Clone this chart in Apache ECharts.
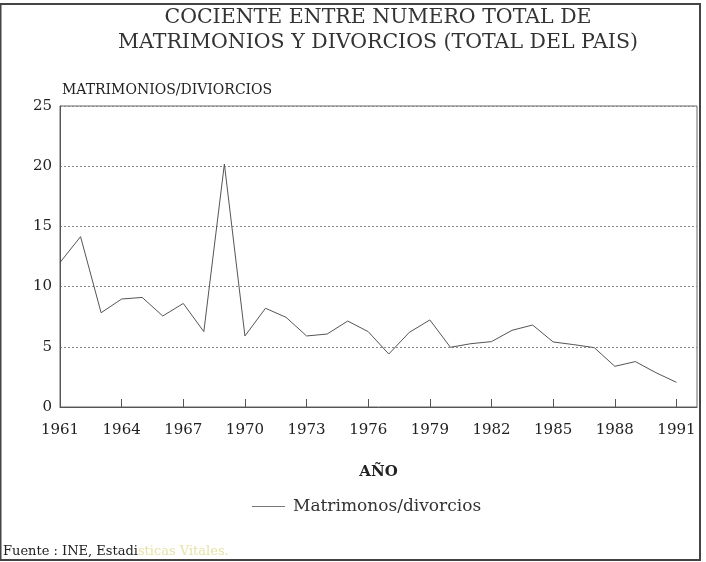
<!DOCTYPE html>
<html>
<head>
<meta charset="utf-8">
<script src="https://cdn.jsdelivr.net/npm/echarts@6/dist/echarts.min.js"></script>
<style>
  html, body { margin: 0; padding: 0; background: #fff; }
  #chart { width: 706px; height: 562px; }
</style>
</head>
<body>
<div id="chart"></div>
<script>
// datos
var anios = [1961, 1962, 1963, 1964, 1965, 1966, 1967, 1968, 1969, 1970,
             1971, 1972, 1973, 1974, 1975, 1976, 1977, 1978, 1979, 1980,
             1981, 1982, 1983, 1984, 1985, 1986, 1987, 1988, 1989, 1990, 1991];
var cociente = [12.0, 14.15, 7.83, 8.97, 9.1, 7.56, 8.6, 6.26, 20.18, 5.9,
                8.2, 7.45, 5.9, 6.06, 7.14, 6.26, 4.4, 6.2, 7.23, 4.96,
                5.26, 5.43, 6.37, 6.81, 5.4, 5.18, 4.93, 3.38, 3.77, 2.85, 2.05];
var aniosEtiqueta = [1961, 1964, 1967, 1970, 1973, 1976, 1979, 1982, 1985, 1988, 1991];

var serieDatos = [];
for (var i = 0; i < anios.length; i++) {
    serieDatos.push([anios[i], cociente[i]]);
}

var fuente = 'DejaVu Serif';
var chart = echarts.init(document.getElementById('chart'));

var option = {
    backgroundColor: '#fff',
    animation: false,
    textStyle: { fontFamily: fuente, color: '#222' },
    grid: {
        left: 60, right: 9, top: 106, bottom: 155,
        show: true,
        borderColor: '#666',
        borderWidth: 1
    },
    legend: {
        left: 247,
        top: 493,
        icon: 'rect',
        itemWidth: 33,
        itemHeight: 1,
        data: ['Matrimonos/divorcios'],
        itemStyle: { color: '#777' },
        textStyle: { fontFamily: fuente, fontSize: 17, color: '#333', padding: [0, 0, 0, 3] }
    },
    xAxis: {
        type: 'value',
        min: 1961,
        max: 1992,
        name: 'AÑO',
        nameLocation: 'middle',
        nameGap: 58,
        nameTextStyle: { fontFamily: fuente, fontSize: 15, fontWeight: 'bold', color: '#222' },
        axisLine: { show: true, lineStyle: { color: '#555', width: 1 } },
        axisTick: {
            show: true,
            inside: true,
            length: 8,
            customValues: aniosEtiqueta,
            lineStyle: { color: '#555' }
        },
        axisLabel: {
            customValues: aniosEtiqueta,
            formatter: function (v) { return String(v); },
            margin: 16,
            fontFamily: fuente,
            fontSize: 15,
            color: '#222'
        },
        splitLine: { show: false }
    },
    yAxis: {
        type: 'value',
        min: 0,
        max: 25,
        interval: 5,
        name: 'MATRIMONIOS/DIVIORCIOS',
        nameLocation: 'end',
        nameGap: 16,
        nameTextStyle: { fontFamily: fuente, fontSize: 14, color: '#222', align: 'left', verticalAlign: 'middle', padding: [0, 0, 0, 2] },
        axisLine: { show: true, lineStyle: { color: '#555', width: 1 } },
        axisTick: { show: false },
        axisLabel: { margin: 8, fontFamily: fuente, fontSize: 15, color: '#222' },
        splitLine: {
            show: true,
            lineStyle: { type: [2, 2], color: '#888', width: 1 }
        }
    },
    series: [
        {
            name: 'Matrimonos/divorcios',
            type: 'line',
            symbol: 'none',
            data: serieDatos,
            lineStyle: { color: '#555', width: 1 },
            itemStyle: { color: '#555' }
        }
    ],
    graphic: [
        {
            type: 'rect',
            shape: { x: 0.5, y: 4, width: 699.5, height: 556 },
            style: { fill: 'none', stroke: '#444', lineWidth: 2 },
            silent: true
        },
        {
            type: 'text',
            style: {
                x: 378, y: 18,
                text: 'COCIENTE ENTRE NUMERO TOTAL DE',
                align: 'center', verticalAlign: 'middle',
                font: '20.5px "DejaVu Serif"', fill: '#333'
            }
        },
        {
            type: 'text',
            style: {
                x: 378, y: 43,
                text: 'MATRIMONIOS Y DIVORCIOS (TOTAL DEL PAIS)',
                align: 'center', verticalAlign: 'middle',
                font: '20.5px "DejaVu Serif"', fill: '#333'
            }
        },
        {
            type: 'text',
            style: {
                x: 3, y: 552,
                text: '{a|Fuente : INE, Estadi}{b|sticas Vitales.}',
                verticalAlign: 'middle',
                font: '13px "DejaVu Serif"',
                rich: {
                    a: { fontFamily: fuente, fontSize: 13, fill: '#222' },
                    b: { fontFamily: fuente, fontSize: 13, fill: '#e6e2a6' }
                }
            }
        }
    ]
};

chart.setOption(option);
</script>
</body>
</html>
